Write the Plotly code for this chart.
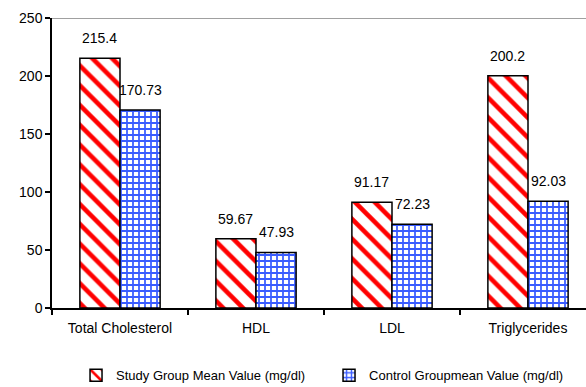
import plotly.graph_objects as go

categories = ["Total Cholesterol", "HDL", "LDL", "Triglycerides"]
study_values = [215.4, 59.67, 91.17, 200.2]
control_values = [170.73, 47.93, 72.23, 92.03]
series_names = ["Study Group Mean Value (mg/dl)", "Control Groupmean Value (mg/dl)"]
y_ticks = [0, 50, 100, 150, 200, 250]

FONT = "Liberation Sans, Arial, sans-serif"
BARGAP = 0.41

fig = go.Figure()
fig.add_trace(go.Bar(
    name=series_names[0], x=categories, y=study_values,
    marker=dict(color="white", line=dict(color="black", width=1.5),
                pattern=dict(shape="\\", fgcolor="#ff0000", bgcolor="white",
                             size=14, solidity=0.33, fillmode="overlay", fgopacity=1)),
))
fig.add_trace(go.Bar(
    name=series_names[1], x=categories, y=control_values,
    marker=dict(color="white", line=dict(color="black", width=1.5),
                pattern=dict(shape="+", fgcolor="#3a5cff", bgcolor="white",
                             size=6, solidity=0.5, fillmode="overlay", fgopacity=1)),
))

off = (1 - BARGAP) / 4
for i, (s, c) in enumerate(zip(study_values, control_values)):
    for xv, v in ((i - off, s), (i + off, c)):
        fig.add_annotation(x=xv, y=v, text=str(v), showarrow=False,
                           yanchor="bottom", yshift=10,
                           font=dict(family=FONT, size=14, color="black"))

fig.add_shape(type="line", xref="paper", yref="y", x0=0, x1=1, y0=250, y1=250,
              line=dict(color="#808080", width=1.5))

fig.update_layout(
    width=586, height=387,
    margin=dict(l=52, r=0, t=18, b=79, autoexpand=False),
    paper_bgcolor="white", plot_bgcolor="white",
    barmode="group", bargap=BARGAP, bargroupgap=0,
    font=dict(family=FONT, size=14, color="black"),
    showlegend=True,
    legend=dict(orientation="h", x=0.045, xanchor="left", y=-0.232, yanchor="middle",
                font=dict(size=13), entrywidth=208, itemwidth=30,
                traceorder="normal", bgcolor="rgba(0,0,0,0)"),
    xaxis=dict(type="category", range=[-0.5, -0.5 + 534 / 136],
               showline=True, linecolor="black", linewidth=1.5,
               ticks="outside", tickson="boundaries", ticklen=5, tickcolor="black",
               tickwidth=1.5, showgrid=False, ticklabelstandoff=6,
               tickfont=dict(size=14)),
    yaxis=dict(range=[0, 250], tickvals=y_ticks, showline=True, linecolor="black",
               linewidth=1.5, ticks="outside", ticklen=5, tickcolor="black",
               tickwidth=1.5, showgrid=False, zeroline=False,
               tickfont=dict(size=14)),
)

fig.write_html("out.html")
